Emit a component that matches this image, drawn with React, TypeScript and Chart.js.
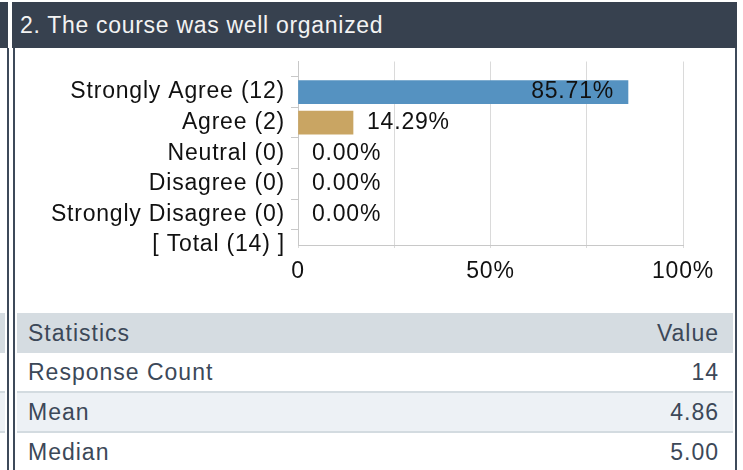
import React, { useEffect, useRef } from "react";
import { Chart, registerables } from "chart.js";
Chart.register(...registerables);

const TITLE = "2. The course was well organized";
const CHOICES = ["Strongly Agree", "Agree", "Neutral", "Disagree", "Strongly Disagree"];
const COUNTS = [12, 2, 0, 0, 0];
const PERCENTS = [85.71, 14.29, 0.0, 0.0, 0.0];
const TOTAL_LABEL = "[ Total (14) ]";
const X_TICK_LABELS: Record<number, string> = { 0: "0", 25: "", 50: "50%", 75: "", 100: "100%" };
const BAR_COLORS = ["#5592c1", "#c9a563", "#8fb3d9", "#d9c59a", "#b0b0b0"];
const STAT_HEADER = ["Statistics", "Value"];
const STAT_NAMES = ["Response Count", "Mean", "Median"];
const STAT_VALUES = ["14", "4.86", "5.00"];

const FONT = '"Liberation Sans", Arial, sans-serif';
const HEADER_BG = "#37414f";
const BORDER = "#3e4a5a";
const TEXT_SLATE = "#3c4858";

const labelPlugin = {
  id: "valueLabels",
  beforeDraw(chart: any) {
    chart.ctx.letterSpacing = "0.8px";
  },
  afterDatasetsDraw(chart: any) {
    const ctx = chart.ctx;
    const meta = chart.getDatasetMeta(0);
    const data = chart.data.datasets[0].data;
    ctx.save();
    ctx.letterSpacing = "0.8px";
    ctx.font = `23px ${FONT}`;
    ctx.fillStyle = "#111";
    ctx.textBaseline = "middle";
    meta.data.forEach((el: any, i: number) => {
      const v = data[i];
      if (v === null || v === undefined) return;
      const txt = v.toFixed(2) + "%";
      if (v > 50) {
        ctx.textAlign = "right";
        ctx.fillText(txt, el.x - 14, el.y);
      } else {
        ctx.textAlign = "left";
        ctx.fillText(txt, el.x + 14, el.y);
      }
    });
    ctx.restore();
  },
};

function BarChart() {
  const ref = useRef<HTMLCanvasElement | null>(null);
  useEffect(() => {
    if (!ref.current) return;
    const labels = ["", ...CHOICES.map((c, i) => `${c} (${COUNTS[i]})`), TOTAL_LABEL];
    const values = [null, ...PERCENTS, null];
    const colors = [
      "transparent",
      ...BAR_COLORS.map((c, i) => (PERCENTS[i] > 0 ? c : "transparent")),
      "transparent",
    ];
    const chart = new Chart(ref.current, {
      type: "bar",
      data: {
        labels,
        datasets: [
          {
            data: values as any,
            backgroundColor: colors,
            barThickness: 23,
            borderWidth: 0,
          },
        ],
      },
      plugins: [labelPlugin],
      options: {
        indexAxis: "y",
        animation: false,
        responsive: false,
        events: [],
        layout: { padding: { top: 11.5, right: 51, bottom: 0, left: 0 } },
        plugins: { legend: { display: false }, tooltip: { enabled: false } },
        scales: {
          x: {
            min: 0,
            max: 100,
            ticks: {
              stepSize: 25,
              autoSkip: false,
              maxRotation: 0,
              padding: 10,
              color: "#111",
              font: { size: 23, family: FONT },
              callback: (v: any) => X_TICK_LABELS[Number(v)] ?? "",
            },
            grid: { color: "#dadada", tickLength: 3, tickColor: "#dadada" },
            border: { display: true, color: "#c8c8c8" },
            afterFit: (s: any) => {
              s.height = 60;
              s.paddingLeft = 0;
              s.paddingRight = 0;
            },
          },
          y: {
            type: "category",
            offset: false,
            ticks: {
              autoSkip: false,
              padding: 6,
              color: "#111",
              font: { size: 23, family: FONT },
            },
            grid: {
              drawOnChartArea: false,
              tickLength: 7,
              tickColor: (c: any) => (c.index === 0 ? "rgba(0,0,0,0)" : "#c8c8c8"),
            },
            border: { display: true, color: "#c8c8c8" },
            afterFit: (s: any) => {
              s.width = 283;
              s.paddingTop = 0;
              s.paddingBottom = 0;
            },
          },
        },
      } as any,
    });
    return () => chart.destroy();
  }, []);
  return <canvas ref={ref} width={719} height={255} style={{ width: 719, height: 255, display: "block" }} />;
}

function abs(left: number, top: number, width: number, height: number, bg: string): React.CSSProperties {
  return { position: "absolute", left, top, width, height, background: bg };
}

export default function App() {
  const rowTops = [353, 393, 433];
  return (
    <div
      style={{
        position: "absolute",
        left: 0,
        top: 0,
        width: 743,
        height: 470,
        overflow: "hidden",
        background: "#fff",
        fontFamily: FONT,
      }}
    >
      {/* previous panel remnants */}
      <div style={abs(0, 2, 8, 46, HEADER_BG)} />
      <div style={abs(7, 48, 2, 422, BORDER)} />
      <div style={abs(0, 313, 5, 40, "#d5dce1")} />
      <div style={abs(0, 391, 5, 2, "#d3dbe0")} />
      <div style={abs(0, 393, 5, 38, "#edf1f5")} />
      <div style={abs(0, 431, 5, 2, "#d3dbe0")} />

      {/* header */}
      <div
        style={{
          ...abs(12, 2, 725, 46, HEADER_BG),
          color: "#f3f3f3",
          fontSize: 23,
          letterSpacing: "0.7px",
          lineHeight: "46px",
          paddingLeft: 8,
          boxSizing: "border-box",
          whiteSpace: "nowrap",
        }}
      >
        {TITLE}
      </div>
      <div style={abs(13, 48, 2, 422, BORDER)} />
      <div style={abs(735, 48, 2, 422, BORDER)} />

      {/* chart */}
      <div style={{ position: "absolute", left: 15, top: 50, width: 719, height: 255 }}>
        <BarChart />
      </div>

      {/* statistics table */}
      <div
        style={{
          ...abs(17, 313, 716, 40, "#d5dce1"),
          display: "flex",
          alignItems: "center",
          justifyContent: "space-between",
          padding: "0 14px 0 11px",
          boxSizing: "border-box",
          color: TEXT_SLATE,
          fontSize: 23,
          letterSpacing: "1px",
        }}
      >
        <span>{STAT_HEADER[0]}</span>
        <span>{STAT_HEADER[1]}</span>
      </div>
      {STAT_NAMES.map((name, i) => (
        <React.Fragment key={name}>
          <div
            style={{
              ...abs(17, rowTops[i], 716, 38, i === 1 ? "#edf1f5" : "#fff"),
              display: "flex",
              alignItems: "center",
              justifyContent: "space-between",
              padding: "0 14px 0 11px",
              boxSizing: "border-box",
              color: TEXT_SLATE,
              fontSize: 23,
              letterSpacing: "1px",
            }}
          >
            <span>{name}</span>
            <span>{STAT_VALUES[i]}</span>
          </div>
          {i < STAT_NAMES.length - 1 && <div style={abs(17, rowTops[i] + 38, 716, 2, "#d3dbe0")} />}
        </React.Fragment>
      ))}
    </div>
  );
}
